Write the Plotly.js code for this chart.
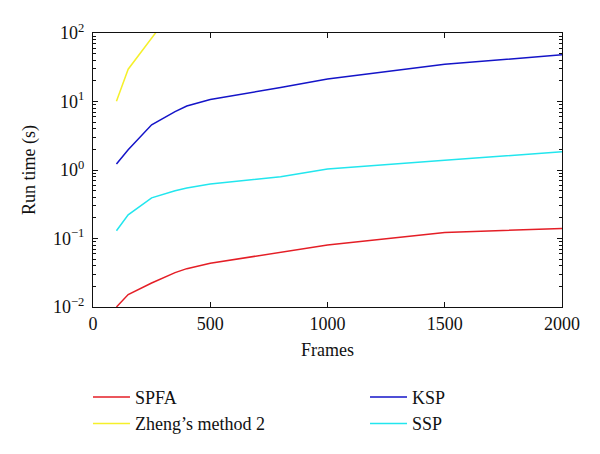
<!DOCTYPE html>
<html>
<head>
<meta charset="utf-8">
<script src="https://cdn.plot.ly/plotly-3.0.1.min.js"></script>
<style>html,body{margin:0;padding:0;background:#fff;}#chart{width:600px;height:454px;}</style>
</head>
<body>
<div id="chart"></div>
<script>
// Data
var framesSPFA = [100, 150, 250, 350, 400, 500, 1000, 1500, 2000];
var spfa = [0.0100, 0.0152, 0.0224, 0.0318, 0.0363, 0.0435, 0.0804, 0.1225, 0.140];

var framesZheng = [100, 150, 300];
var zheng = [10.1, 29.6, 142];

var framesKSP = [100, 150, 250, 350, 400, 500, 800, 1000, 1500, 2000];
var ksp = [1.22, 1.98, 4.58, 7.13, 8.6, 10.7, 16.0, 21.3, 34.9, 48.0];

var framesSSP = [100, 150, 250, 350, 400, 500, 800, 1000, 1500, 2000];
var ssp = [0.130, 0.221, 0.392, 0.499, 0.546, 0.623, 0.80, 1.03, 1.39, 1.84];

var xTickVals = [0, 500, 1000, 1500, 2000];
var yTickVals = [0.01, 0.1, 1, 10, 100];
var yTickText = ['10<sup>\u22122</sup>', '10<sup>\u22121</sup>', '10<sup>0</sup>', '10<sup>1</sup>', '10<sup>2</sup>'];

var FONT = 'Liberation Serif, Times New Roman, serif';

var traces = [
  {x: framesSPFA, y: spfa, name: 'SPFA', mode: 'lines', line: {color: '#e41e26', width: 1.5}, legend: 'legend'},
  {x: framesZheng, y: zheng, name: 'Zheng\u2019s method 2', mode: 'lines', line: {color: '#f5f02a', width: 1.5}, legend: 'legend'},
  {x: framesKSP, y: ksp, name: 'KSP', mode: 'lines', line: {color: '#1414c8', width: 1.5}, legend: 'legend2'},
  {x: framesSSP, y: ssp, name: 'SSP', mode: 'lines', line: {color: '#22e6ee', width: 1.5}, legend: 'legend2'}
];

var layout = {
  width: 600, height: 454,
  margin: {l: 93, r: 38, t: 33, b: 142},
  paper_bgcolor: '#fff', plot_bgcolor: '#fff',
  font: {family: FONT, size: 18, color: '#111'},
  showlegend: true,
  xaxis: {
    range: [0, 2000], tickvals: xTickVals, ticktext: xTickVals.map(String),
    ticks: 'inside', ticklen: 5, tickcolor: '#111', tickwidth: 1,
    showline: true, linecolor: '#111', linewidth: 1, mirror: 'ticks',
    showgrid: false, zeroline: false,
    title: {text: 'Frames', font: {family: FONT, size: 18}, standoff: 10},
    tickfont: {family: FONT, size: 18}
  },
  yaxis: {
    type: 'log', range: [-2, 2], tickvals: yTickVals, ticktext: yTickText,
    ticks: 'inside', ticklen: 5, tickcolor: '#111', tickwidth: 1,
    minor: {ticks: 'inside', ticklen: 3, tickcolor: '#111', showgrid: false, tickmode: 'linear', dtick: 'D1'},
    showline: true, linecolor: '#111', linewidth: 1, mirror: 'ticks',
    showgrid: false, zeroline: false,
    ticklabelstandoff: 4,
    title: {text: 'Run time (s)', font: {family: FONT, size: 18}, standoff: 12},
    tickfont: {family: FONT, size: 18}
  },
  legend: {
    x: -0.0107, xanchor: 'left', y: -0.262, yanchor: 'top',
    orientation: 'v', bgcolor: 'rgba(0,0,0,0)', borderwidth: 0, itemwidth: 37,
    font: {family: FONT, size: 18}, tracegroupgap: 0
  },
  legend2: {
    x: 0.580, xanchor: 'left', y: -0.262, yanchor: 'top',
    orientation: 'v', bgcolor: 'rgba(0,0,0,0)', borderwidth: 0, itemwidth: 37,
    font: {family: FONT, size: 18}, tracegroupgap: 0
  }
};

Plotly.newPlot('chart', traces, layout, {staticPlot: true, displayModeBar: false});
</script>
</body>
</html>
